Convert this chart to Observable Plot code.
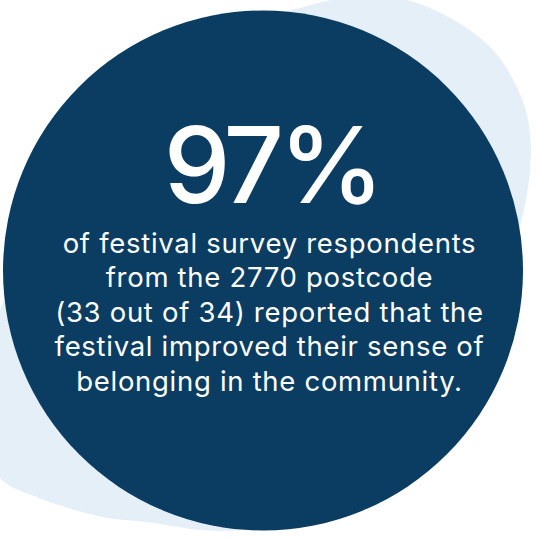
<!DOCTYPE html>
<html><head><meta charset="utf-8">
<script src="https://cdn.jsdelivr.net/npm/d3@7"></script>
<script src="https://cdn.jsdelivr.net/npm/@observablehq/plot@0.6"></script>
<style>html,body{margin:0;padding:0;background:#fff;overflow:hidden}</style>
</head><body><div id="chart"></div>
<script>
const headline = "97%";
const bodyLines = [
  "of festival survey respondents",
  "from the 2770 postcode",
  "(33 out of 34) reported that the",
  "festival improved their sense of",
  "belonging in the community."
];
// background blob outline (pixel space)
const blobX = [290, 340, 395, 445, 493, 522, 530, 527, 510, 470, 380, 270, 210, 150, 100, 40, 0, -15, -15, -5, 30, 80, 180];
const blobY = [10, -2, -3, 15, 50, 100, 140, 190, 260, 380, 480, 525, 530, 522, 516, 498, 478, 440, 370, 320, 250, 140, 40];
const circle = [{cx: 262.5, cy: 270, r: 260}];

const W = 536, H = 539;
const blob = blobX.map((x, i) => ({x, y: blobY[i]}));
const lines = bodyLines.map((t, i) => ({t, x: 269, y: 252 + i * 34.5}));

const plot = Plot.plot({
  width: W, height: H,
  margin: 0,
  x: {domain: [0, W], range: [0, W], axis: null},
  y: {domain: [0, H], range: [0, H], axis: null},
  r: {type: "identity"},
  style: {background: "#fff", overflow: "hidden"},
  marks: [
    Plot.line(blob, {x: "x", y: "y", curve: "catmull-rom-closed", fill: "#e4eff7", stroke: "none"}),
    Plot.dot(circle, {x: "cx", y: "cy", r: "r", fill: "#0b3d62", stroke: "none"}),
    Plot.text([headline], {x: [271], y: [202], text: d => d, lineAnchor: "bottom", fill: "#fff",
      fontSize: 106, fontWeight: 500, fontFamily: "Inter, 'Open Sans', sans-serif", className: "headline"}),
    Plot.text(lines, {x: "x", y: "y", text: "t", lineAnchor: "bottom", fill: "#fff",
      fontSize: 27.5, fontWeight: 400, fontFamily: "Inter, 'Open Sans', sans-serif", className: "body"})
  ]
});
plot.querySelectorAll(".headline text").forEach(t => t.setAttribute("letter-spacing", "-5"));
plot.querySelectorAll(".body text").forEach(t => t.setAttribute("letter-spacing", "0.7"));
document.getElementById("chart").appendChild(plot);
</script>
</body></html>
